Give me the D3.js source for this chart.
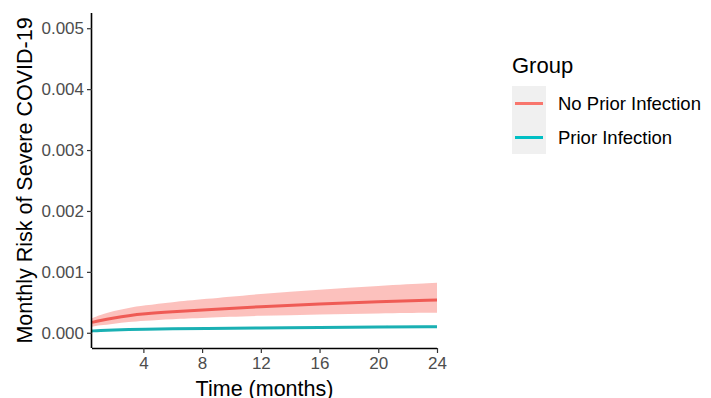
<!DOCTYPE html>
<html>
<head>
<meta charset="utf-8">
<script src="https://cdn.jsdelivr.net/npm/d3@7"></script>
<style>
  body { margin: 0; background: #fff; }
  text { font-family: "Liberation Sans", Arial, sans-serif; }
</style>
</head>
<body>
<div id="chart"></div>
<script>
// data
const months = [0.5, 1, 2, 3, 4, 6, 8, 12, 16, 20, 24];
const noPriorFit   = [0.00017, 0.0002, 0.000245, 0.000282, 0.00031, 0.000345, 0.000375, 0.00043, 0.000475, 0.00051, 0.00054];
const noPriorLower = [0.0001, 0.00012, 0.00015, 0.000178, 0.000198, 0.000225, 0.000245, 0.00028, 0.0003, 0.00032, 0.00033];
const noPriorUpper = [0.00024, 0.00029, 0.00036, 0.00041, 0.000448, 0.000505, 0.00055, 0.00064, 0.00071, 0.00077, 0.00082];
const priorFit   = [0.00003, 0.000037, 0.000046, 0.000052, 0.000057, 0.000065, 0.00007, 0.000079, 0.000086, 0.000093, 0.0001];
const priorLower = [0.00002, 0.000027, 0.000036, 0.000042, 0.000047, 0.000054, 0.000059, 0.000067, 0.000073, 0.000079, 0.000085];
const priorUpper = [0.00004, 0.000047, 0.000057, 0.000063, 0.000068, 0.000076, 0.000082, 0.000092, 0.0001, 0.000108, 0.000116];
const groups = ["No Prior Infection", "Prior Infection"];
const lineColors = ["#EF5B55", "#1AB0B3"];
const bandColors = ["#F8766D", "#00BFC4"];
const xTicks = [4, 8, 12, 16, 20, 24];
const yTicks = [0, 0.001, 0.002, 0.003, 0.004, 0.005];

let margin = {top: 13, right: 274, bottom: 50, left: 92},
    width = 711 - margin.left - margin.right,
    height = 398 - margin.top - margin.bottom;

let svgRoot = d3.select("#chart")
    .append("svg")
    .attr("width", 711)
    .attr("height", 398);

let svg = svgRoot.append("g")
    .attr("transform", `translate(${margin.left}, ${margin.top})`);

const x = d3.scaleLinear().domain([0.5, 24]).range([0, width]);
const y = d3.scaleLinear().domain([-0.00025, 0.00525]).range([height, 0]);

const series = [
  {fit: priorFit, lo: priorLower, hi: priorUpper, i: 1},
  {fit: noPriorFit, lo: noPriorLower, hi: noPriorUpper, i: 0}
];

// bands first, then lines
series.forEach(s => {
  svg.append("path")
    .datum(months.map((m, k) => [m, s.lo[k], s.hi[k]]))
    .attr("fill", bandColors[s.i])
    .attr("opacity", s.i === 0 ? 0.45 : 0.35)
    .attr("d", d3.area()
      .curve(d3.curveBasis)
      .x(d => x(d[0]))
      .y0(d => y(d[1]))
      .y1(d => y(d[2])));
});
series.forEach(s => {
  svg.append("path")
    .datum(months.map((m, k) => [m, s.fit[k]]))
    .attr("fill", "none")
    .attr("stroke", lineColors[s.i])
    .attr("stroke-width", 3)
    .attr("d", d3.line()
      .curve(d3.curveBasis)
      .x(d => x(d[0]))
      .y(d => y(d[1])));
});

// axes
let xAxis = svg.append("g")
    .attr("transform", `translate(0, ${height})`)
    .call(d3.axisBottom(x).tickValues(xTicks).tickSize(5).tickPadding(4));
let yAxis = svg.append("g")
    .call(d3.axisLeft(y).tickValues(yTicks).tickFormat(d3.format(".3f")).tickSize(5).tickPadding(3));

[xAxis, yAxis].forEach(a => {
  a.select(".domain").attr("stroke", "#000").attr("stroke-width", 1.6);
  a.selectAll(".tick line").attr("stroke", "#333").attr("stroke-width", 1.2);
  a.selectAll(".tick text")
    .attr("fill", "#4d4d4d")
    .style("font-size", "17px");
});
xAxis.select(".domain").attr("d", `M0,0.5H${width}`);
yAxis.select(".domain").attr("d", `M-0.5,0V${height}`);

// axis titles
svg.append("text")
    .attr("x", width / 2)
    .attr("y", height + 48)
    .attr("text-anchor", "middle")
    .style("font-size", "21.5px")
    .text("Time (months)");

svgRoot.append("text")
    .attr("transform", `translate(32, ${margin.top + height / 2}) rotate(-90)`)
    .attr("text-anchor", "middle")
    .style("font-size", "21.5px")
    .text("Monthly Risk of Severe COVID-19");

// legend
let legend = svgRoot.append("g").attr("transform", "translate(512, 0)");
legend.append("text")
    .attr("x", 0)
    .attr("y", 73)
    .style("font-size", "22px")
    .text("Group");
legend.append("rect")
    .attr("x", 0)
    .attr("y", 86)
    .attr("width", 34)
    .attr("height", 68)
    .attr("fill", "#f0f0f0");
groups.forEach((g, i) => {
  let cy = 103.5 + i * 34;
  legend.append("line")
    .attr("x1", 3).attr("x2", 31)
    .attr("y1", cy).attr("y2", cy)
    .attr("stroke", bandColors[i])
    .attr("stroke-width", 3);
  legend.append("text")
    .attr("x", 46)
    .attr("y", cy + 6.5)
    .style("font-size", "18.5px")
    .text(g);
});
</script>
</body>
</html>
